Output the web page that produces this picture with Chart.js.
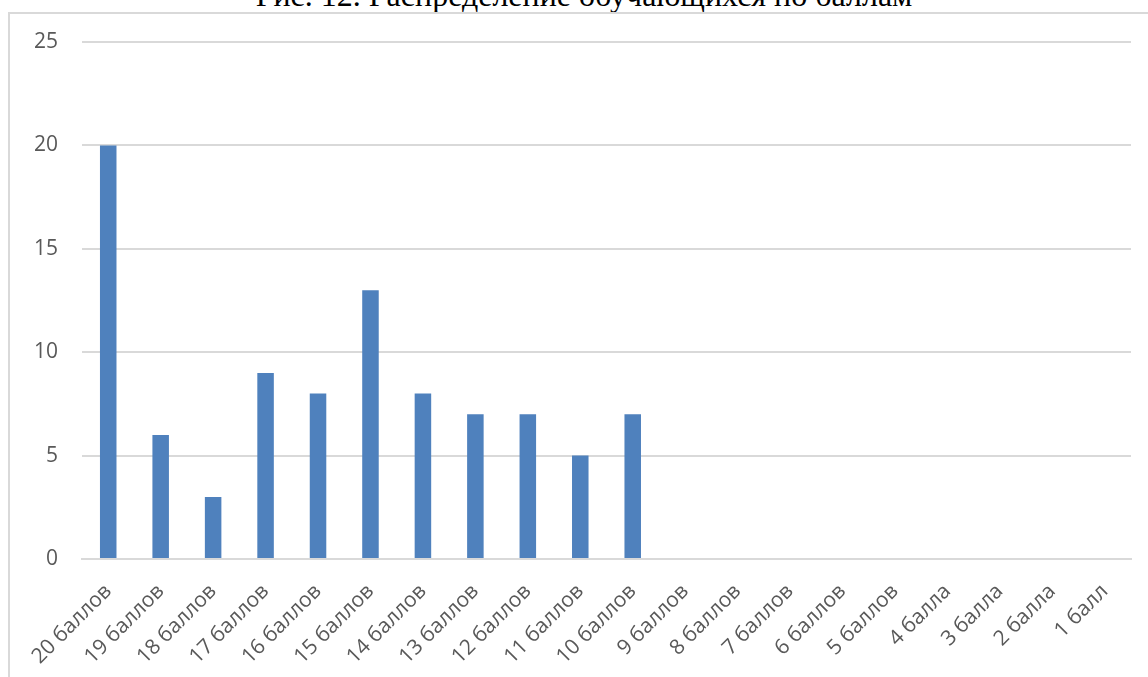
<!DOCTYPE html>
<html>
<head>
<meta charset="utf-8">
<script src="https://cdn.jsdelivr.net/npm/chart.js@4"></script>
<style>
  html, body { margin: 0; padding: 0; background: #fff; overflow: hidden; }
  #title {
    position: absolute; left: 0; width: 1168px; top: -21px;
    text-align: center; font-family: "Liberation Serif", serif;
    font-size: 32px; line-height: 32px; color: #000; white-space: nowrap;
  }
  #box {
    position: absolute; left: 8px; top: 12px;
    width: 1150px; height: 670px;
    border: 2px solid #d9d9d9;
  }
  #wrap { position: relative; width: 1150px; height: 663px; }
</style>
</head>
<body>
<div id="title">Рис. 12. Распределение обучающихся по баллам</div>
<div id="box"><div id="wrap"><canvas id="scoreChart"></canvas></div></div>
<script>
const categories = [
  '20 баллов', '19 баллов', '18 баллов', '17 баллов', '16 баллов',
  '15 баллов', '14 баллов', '13 баллов', '12 баллов', '11 баллов',
  '10 баллов', '9 баллов', '8 баллов', '7 баллов', '6 баллов',
  '5 баллов', '4 балла', '3 балла', '2 балла', '1 балл',
];
const students = [20, 6, 3, 9, 8, 13, 8, 7, 7, 5, 7, 0, 0, 0, 0, 0, 0, 0, 0, 0];
const yTicks = [0, 5, 10, 15, 20, 25];

const tickFont = { family: '"Open Sans", sans-serif', size: 21 };

new Chart(document.getElementById('scoreChart').getContext('2d'), {
  type: 'bar',
  data: {
    labels: categories,
    datasets: [{
      label: 'Обучающиеся',
      data: students,
      backgroundColor: '#4f81bd',
      borderWidth: 0,
      categoryPercentage: 1,
      barPercentage: 0.315,
    }],
  },
  options: {
    responsive: true,
    maintainAspectRatio: false,
    animation: false,
    layout: { padding: { top: 28, right: 29, bottom: 0, left: 0 } },
    plugins: { legend: { display: false }, tooltip: { enabled: false } },
    scales: {
      x: {
        grid: { display: false },
        border: { display: true, color: '#d9d9d9', width: 2 },
        ticks: {
          color: '#595959', font: tickFont,
          minRotation: 45, maxRotation: 45, autoSkip: false, padding: 12,
        },
        afterFit: (s) => { s.height = 118; },
      },
      y: {
        min: 0,
        max: yTicks[yTicks.length - 1],
        afterBuildTicks: (s) => { s.ticks = yTicks.map((v) => ({ value: v })); },
        grid: { color: '#d9d9d9', lineWidth: 2, drawTicks: false },
        border: { display: false },
        ticks: { color: '#595959', font: tickFont, padding: 24 },
        afterFit: (s) => {
          s.width = 72;
          s.paddingTop = 0;
          s.paddingBottom = 0;
        },
      },
    },
  },
});
</script>
</body>
</html>
